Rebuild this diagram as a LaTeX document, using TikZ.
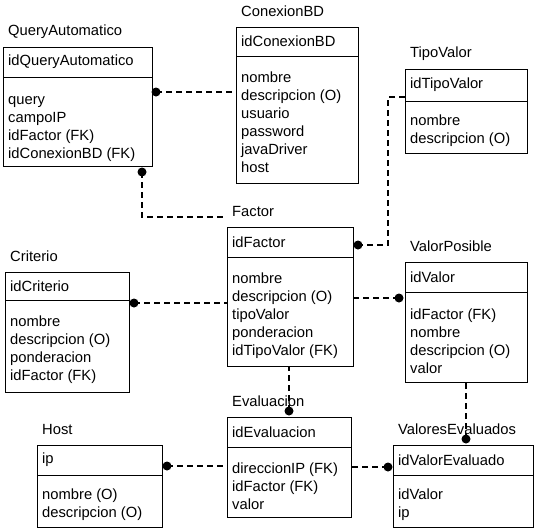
\documentclass[tikz,border=0pt]{standalone}
\usepackage{fontspec}
\setmainfont{Liberation Sans}
\usetikzlibrary{calc}
\tikzset{
  ebox/.style={draw, line width=0.9pt, inner sep=0pt, outer sep=0pt},
  etxt/.style={inner sep=0pt, align=left, font=\fontsize{14.75pt}{18pt}\selectfont},
  ttl/.style={inner sep=0pt, font=\fontsize{14.75pt}{18pt}\selectfont},
  rel/.style={line width=1.3pt, dash pattern=on 6pt off 4pt},
  dotc/.style={fill=black}
}
\def\bsh{-4}
% name, x, top, width, header h, body h, title, key, body
\newcommand{\ent}[9]{%
  \node[ebox, minimum width=#4pt, minimum height=#5pt, anchor=north west] (#1h) at (#2,#3) {};
  \node[ebox, minimum width=#4pt, minimum height=#6pt, anchor=north] (#1b) at (#1h.south) {};
  \node[etxt, anchor=west] (#1k) at ([xshift=5pt]#1h.west) {#8};
  \node[etxt, anchor=west] (#1l) at ([xshift=5pt,yshift=\bsh pt]#1b.west) {#9};
  \node[ttl, anchor=west] (#1t) at ([xshift=5pt,yshift=15.5pt]#1h.north west) {#7};
}
\begin{document}
\begin{tikzpicture}[x=1pt,y=-1pt]
\useasboundingbox (0,0) rectangle (535,530);
\def\bsh{-8}
\ent{qa}{3}{47}{149}{30}{89}{QueryAutomatico}{idQueryAutomatico}{query\\campoIP\\idFactor (FK)\\idConexionBD (FK)}
\def\bsh{-3}
\ent{cx}{236}{27}{122}{29}{127}{ConexionBD}{idConexionBD}{nombre\\descripcion (O)\\usuario\\password\\javaDriver\\host}
\def\bsh{-4}
\ent{tv}{405}{69}{122}{32}{52}{TipoValor}{idTipoValor}{nombre\\descripcion (O)}
\ent{fa}{227}{227}{126}{30}{109}{Factor}{idFactor}{nombre\\descripcion (O)\\tipoValor\\ponderacion\\idTipoValor (FK)}
\ent{vp}{405}{262}{122}{30}{90}{ValorPosible}{idValor}{idFactor (FK)\\nombre\\descripcion (O)\\valor}
\ent{cr}{5}{272}{124}{28}{92}{Criterio}{idCriterio}{nombre\\descripcion (O)\\ponderacion\\idFactor (FK)}
\ent{ho}{37}{445}{125}{30}{52}{Host}{ip}{nombre (O)\\descripcion (O)}
\ent{ev}{227}{417}{124}{30}{70}{Evaluacion}{idEvaluacion}{direccionIP (FK)\\idFactor (FK)\\valor}
\ent{ve}{393}{445}{140}{30}{52}{ValoresEvaluados}{idValorEvaluado}{idValor\\ip}

% connectors
\coordinate (qadot) at ($(qab.south west)+(139,6)$);
\coordinate (qaend) at ($(fah.north west)+(-1,-10)$);
\draw[rel] (qadot) |- (qaend);

\coordinate (qcdot) at ($(qab.north east)+(4,15)$);
\draw[rel] (qcdot) -- (qcdot -| cxb.west);

\coordinate (tvs) at ($(tvh.south west)+(0,-4)$);
\coordinate (tfdot) at ($(fah.north east)+(5,18)$);
\draw[rel] (tvs) -- ++(-17,0) |- (tfdot);

\coordinate (fcdot) at ($(crh.south east)+(5,3)$);
\draw[rel] (fcdot) -- (fcdot -| fab.west);

\coordinate (fvdot) at ($(vph.south west)+(-6,6)$);
\draw[rel] (fvdot) -- (fvdot -| fab.east);

\coordinate (fedot) at ($(evh.north west)+(62,-6)$);
\draw[rel] (fedot) -- (fedot |- fab.south);

\coordinate (vvdot) at ($(veh.north west)+(73,-6)$);
\draw[rel] (vvdot) -- (vvdot |- vpb.south);

\coordinate (hedot) at ($(hoh.north east)+(5,21)$);
\draw[rel] (hedot) -- (hedot -| evb.west);

\coordinate (evdot) at ($(veh.north west)+(-5,22)$);
\draw[rel] (evdot) -- (evdot -| evb.east);

\foreach \d in {qadot,qcdot,tfdot,fcdot,fvdot,fedot,vvdot,hedot,evdot}
  \fill[dotc] (\d) circle (4.5pt);
\end{tikzpicture}
\end{document}
